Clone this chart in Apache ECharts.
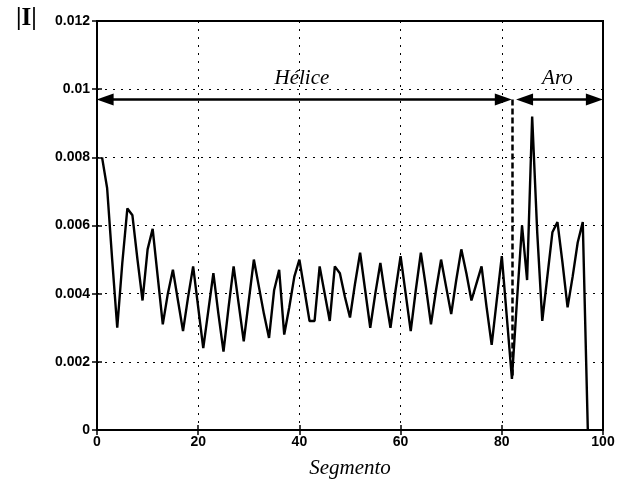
<!DOCTYPE html>
<html>
<head>
<meta charset="utf-8">
<script src="https://cdn.jsdelivr.net/npm/echarts@6/dist/echarts.min.js"></script>
<style>
html,body{margin:0;padding:0;background:#fff;}
#chart{width:621px;height:484px;}
</style>
</head>
<body>
<div id="chart"></div>
<script>
// Segment index (x) and current magnitude |I| (y)
const segments = [1,2,3,4,5,6,7,8,9,10,11,12,13,14,15,16,17,18,19,20,
  21,22,23,24,25,26,27,28,29,30,31,32,33,34,35,36,37,38,39,40,
  41,42,43,44,45,46,47,48,49,50,51,52,53,54,55,56,57,58,59,60,
  61,62,63,64,65,66,67,68,69,70,71,72,73,74,75,76,77,78,79,80,
  81,82,83,84,85,86,87,88,89,90,91,92,93,94,95,96,97];
const current = [0.0080,0.0071,0.0050,0.0030,0.0049,0.0065,0.0063,0.0050,0.0038,0.0053,
  0.0059,0.0045,0.0031,0.0040,0.0047,0.0038,0.0029,0.0039,0.0048,0.0036,
  0.0024,0.0035,0.0046,0.0034,0.0023,0.0036,0.0048,0.0037,0.0026,0.0038,
  0.0050,0.0042,0.0034,0.0027,0.0041,0.0047,0.0028,0.0036,0.0045,0.0050,
  0.0041,0.0032,0.0032,0.0048,0.0040,0.0032,0.0048,0.0046,0.0039,0.0033,
  0.0043,0.0052,0.0041,0.0030,0.0040,0.0049,0.0039,0.0030,0.0041,0.0051,
  0.0040,0.0029,0.0041,0.0052,0.0042,0.0031,0.0041,0.0050,0.0042,0.0034,
  0.0044,0.0053,0.0046,0.0038,0.0043,0.0048,0.0036,0.0025,0.0038,0.0051,
  0.0033,0.0015,0.0038,0.0060,0.0044,0.0092,0.0058,0.0032,0.0045,0.0058,
  0.0061,0.0049,0.0036,0.0045,0.0055,0.0061,0.0000];
const xTicks = [0,20,40,60,80,100];
const yTicks = [0,0.002,0.004,0.006,0.008,0.01,0.012];
// Annotation regions (arrow shaft ends; arrowheads extend past them)
const regionNames = ['Hélice','Aro'];
const regionStart = [1.6, 84.5];
const regionEnd = [80.3, 98.3];
const labelSeg = [40.5, 91];
const labelLevel = 0.0103;
const arrowLevel = 0.0097;
const boundarySeg = 82;

const chart = echarts.init(document.getElementById('chart'), null, {renderer:'canvas'});
const data = segments.map((s,i)=>[s,current[i]]);
const tickFont = {color:'#000', fontFamily:'Liberation Sans, Arial, sans-serif', fontWeight:'bold', fontSize:14};
const dotted = {color:'#000', width:1, type:[2,6]};

const ylab = v => String(parseFloat(Number(v).toFixed(3)));

const arrowLines = regionNames.map((n,i)=>[
  {coord:[regionStart[i], arrowLevel], symbol:'triangle', symbolSize:[12,17]},
  {coord:[regionEnd[i], arrowLevel], symbol:'triangle', symbolSize:[12,17]}
]);

chart.setOption({
  animation:false,
  backgroundColor:'#fff',
  grid:{left:97, right:18, top:21, bottom:54, show:true, borderColor:'#000', borderWidth:2},
  title:{text:'|I|', left:11, top:1, textStyle:{fontFamily:'Liberation Serif, Times New Roman, serif', fontSize:25, fontWeight:'bold', color:'#000'}},
  xAxis:[{
    type:'value', min:xTicks[0], max:xTicks[xTicks.length-1], interval:20,
    name:'Segmento', nameLocation:'middle', nameGap:28,
    nameTextStyle:{fontFamily:'Liberation Serif, Times New Roman, serif', fontStyle:'italic', fontSize:21, color:'#000'},
    axisLine:{show:true, lineStyle:{color:'#000', width:2}},
    axisTick:{show:true, inside:true, length:5, lineStyle:{color:'#000', width:1.5}},
    axisLabel:Object.assign({margin:5}, tickFont),
    splitLine:{show:true, lineStyle:dotted}
  },{
    type:'value', position:'top', min:0, max:100, interval:20,
    axisLine:{show:true, lineStyle:{color:'#000', width:2}},
    axisTick:{show:true, inside:true, length:5, lineStyle:{color:'#000', width:1.5}},
    axisLabel:{show:false}, splitLine:{show:false}
  }],
  yAxis:[{
    type:'value', min:0, max:0.012, interval:0.002,
    axisLine:{show:true, lineStyle:{color:'#000', width:2}},
    axisTick:{show:true, inside:true, length:5, lineStyle:{color:'#000', width:1.5}},
    axisLabel:Object.assign({margin:7, formatter:ylab}, tickFont),
    splitLine:{show:true, lineStyle:dotted}
  },{
    type:'value', position:'right', min:0, max:0.012, interval:0.002,
    axisLine:{show:true, lineStyle:{color:'#000', width:2}},
    axisTick:{show:true, inside:true, length:5, lineStyle:{color:'#000', width:1.5}},
    axisLabel:{show:false}, splitLine:{show:false}
  }],
  series:[{
    type:'line', data:data, showSymbol:false, symbol:'none',
    lineStyle:{color:'#000', width:2.4}, z:5,
    markLine:{
      silent:true, animation:false,
      lineStyle:{color:'#000', width:2.6, type:'solid'},
      label:{show:false},
      data: arrowLines.concat([[
        {coord:[boundarySeg, arrowLevel], symbol:'none', lineStyle:{type:[6,3], width:2.5}},
        {coord:[boundarySeg, 0.0016], symbol:'none'}
      ]])
    },
    markPoint:{
      silent:true, animation:false, symbol:'circle', symbolSize:0,
      data: regionNames.map((n,i)=>({
        coord:[labelSeg[i], labelLevel],
        value:n,
        label:{show:true, formatter:n, color:'#000', fontFamily:'Liberation Serif, Times New Roman, serif', fontStyle:'italic', fontSize:21}
      }))
    }
  }]
});
</script>
</body>
</html>
